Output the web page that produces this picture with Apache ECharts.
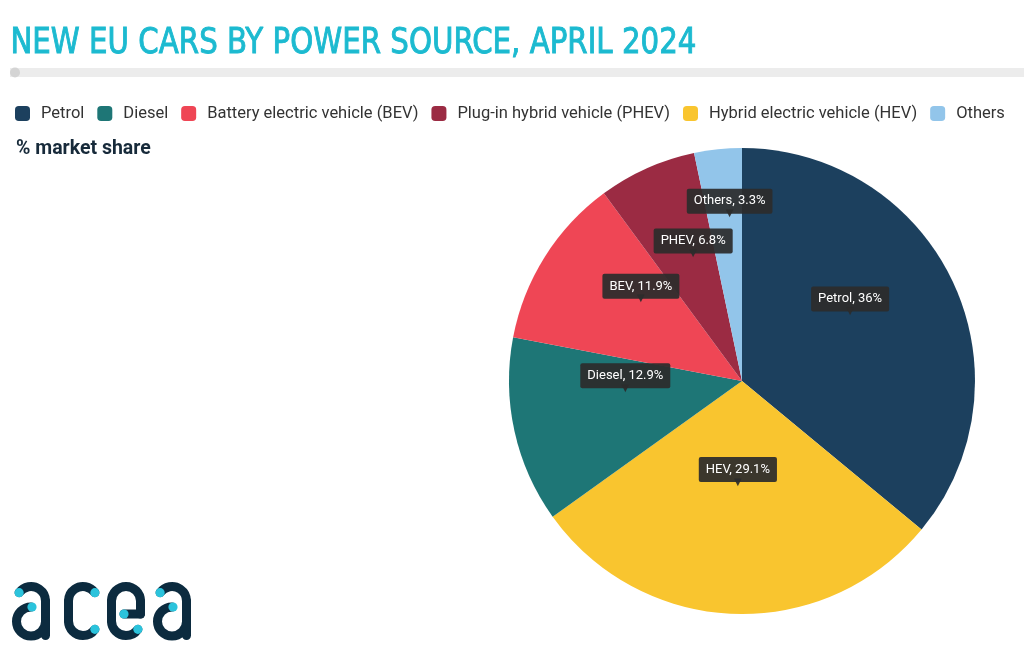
<!DOCTYPE html>
<html>
<head>
<meta charset="utf-8">
<script src="https://cdn.jsdelivr.net/npm/echarts@6/dist/echarts.min.js"></script>
<style>
  html, body { margin: 0; padding: 0; background: #fff; }
  #chart { width: 1024px; height: 671px; }
</style>
</head>
<body>
<div id="chart"></div>
<script>
// slices in drawing order, clockwise from 12 o'clock
const categories = ['Petrol', 'Hybrid electric vehicle (HEV)', 'Diesel', 'Battery electric vehicle (BEV)', 'Plug-in hybrid vehicle (PHEV)', 'Others'];
const shortNames = ['Petrol', 'HEV', 'Diesel', 'BEV', 'PHEV', 'Others'];
const shares = [36, 29.1, 12.9, 11.9, 6.8, 3.3];
const legendOrder = ['Petrol', 'Diesel', 'Battery electric vehicle (BEV)', 'Plug-in hybrid vehicle (PHEV)', 'Hybrid electric vehicle (HEV)', 'Others'];

const colors = ['#1c405e', '#f9c52f', '#1e7676', '#ef4655', '#9b2b43', '#92c5ea'];
const navy = '#0c2b3f';
const cyan = '#2bc3dc';
const tipBg = 'rgba(44,44,44,0.93)';

// acea logo, drawn from arcs and lines
const deg = Math.PI / 180;
const stroke = { stroke: navy, lineWidth: 9, lineCap: 'round', fill: null };
function arc(cx, cy, r, a0, a1, cw) {
  return { type: 'arc', shape: { cx, cy, r, startAngle: a0 * deg, endAngle: a1 * deg, clockwise: cw }, style: stroke };
}
function line(x1, y1, x2, y2) {
  return { type: 'line', shape: { x1, y1, x2, y2 }, style: stroke };
}
function dot(x, y) {
  return { type: 'circle', shape: { cx: x, cy: y, r: 4.6 }, style: { fill: cyan } };
}
function pt(cx, cy, r, a) {
  return [cx + r * Math.cos(a * deg), cy + r * Math.sin(a * deg)];
}
function letterA(x0) {
  const p = pt(19, 19, 14.5, -145);
  return {
    type: 'group', x: x0, y: 582,
    children: [
      arc(19, 19, 14.5, -145, 0, true),
      line(33.5, 19, 33.5, 53.5),
      arc(19, 39.5, 14.5, -90, -360, false),
      dot(p[0], p[1]),
      dot(20, 25)
    ]
  };
}
function letterC(x0) {
  const p = pt(19, 19, 14.5, -35), q = pt(19, 39, 14.5, 35);
  return {
    type: 'group', x: x0, y: 582,
    children: [
      arc(19, 19, 14.5, -35, -180, false),
      line(4.5, 19, 4.5, 39),
      arc(19, 39, 14.5, 180, 35, false),
      dot(p[0], p[1]),
      dot(q[0], q[1])
    ]
  };
}
function letterE(x0) {
  const q = pt(19, 39, 14.5, 35);
  return {
    type: 'group', x: x0, y: 582,
    children: [
      line(17, 32, 33.5, 32),
      line(33.5, 32, 33.5, 19),
      arc(19, 19, 14.5, 0, -180, false),
      line(4.5, 19, 4.5, 39),
      arc(19, 39, 14.5, 180, 35, false),
      dot(17, 32),
      dot(q[0], q[1])
    ]
  };
}

const chart = echarts.init(document.getElementById('chart'));

const option = {
  backgroundColor: '#fff',
  animation: false,
  color: colors,
  graphic: [
    {
      type: 'text', left: 10, top: 26, scaleX: 0.93,
      style: {
        text: 'NEW EU CARS BY POWER SOURCE, APRIL 2024',
        fill: '#1cbad0',
        stroke: '#1cbad0',
        lineWidth: 0.9,
        font: '35px "DejaVu Sans Condensed", "DejaVu Sans", sans-serif'
      }
    },
    { type: 'rect', shape: { x: 10, y: 68, width: 1014, height: 9 }, style: { fill: '#ececec' } },
    { type: 'circle', shape: { cx: 15, cy: 72.5, r: 5 }, style: { fill: '#d4d4d4' } },
    {
      type: 'text', left: 16, top: 139,
      style: {
        text: '% market share',
        fill: '#172a3a',
        font: 'bold 19.5px Roboto, sans-serif'
      }
    },
    letterA(12),
    letterC(64),
    letterE(107),
    letterA(153)
  ],
  legend: {
    data: legendOrder,
    left: 10,
    top: 100,
    width: 1014,
    icon: 'roundRect',
    itemWidth: 15,
    itemHeight: 15,
    itemGap: 13,
    selectedMode: false,
    textStyle: {
      fontFamily: 'Roboto',
      fontSize: 16.5,
      color: '#333',
      padding: [0, 0, 0, 6]
    }
  },
  series: [
    {
      type: 'pie',
      center: [742, 381],
      radius: 233,
      startAngle: 90,
      clockwise: true,
      avoidLabelOverlap: false,
      silent: true,
      data: categories.map((name, i) => ({ name, value: shares[i] })),
      label: {
        show: true,
        position: 'inside',
        formatter: p => '{box|' + shortNames[p.dataIndex] + ', ' + p.value + '%}\n{arr|▼}',
        rich: {
          box: {
            backgroundColor: tipBg,
            color: '#fff',
            fontFamily: 'Roboto',
            fontSize: 13,
            lineHeight: 15,
            padding: [6, 7, 6, 7],
            borderRadius: 2
          },
          arr: {
            color: tipBg,
            fontSize: 10,
            lineHeight: 10,
            fontFamily: 'DejaVu Sans'
          }
        }
      },
      labelLayout: p => ({ dy: shortNames[p.dataIndex] === 'Others' ? -56 : -26 }),
      labelLine: { show: false },
      itemStyle: { borderWidth: 0 }
    }
  ]
};

chart.setOption(option);
</script>
</body>
</html>
